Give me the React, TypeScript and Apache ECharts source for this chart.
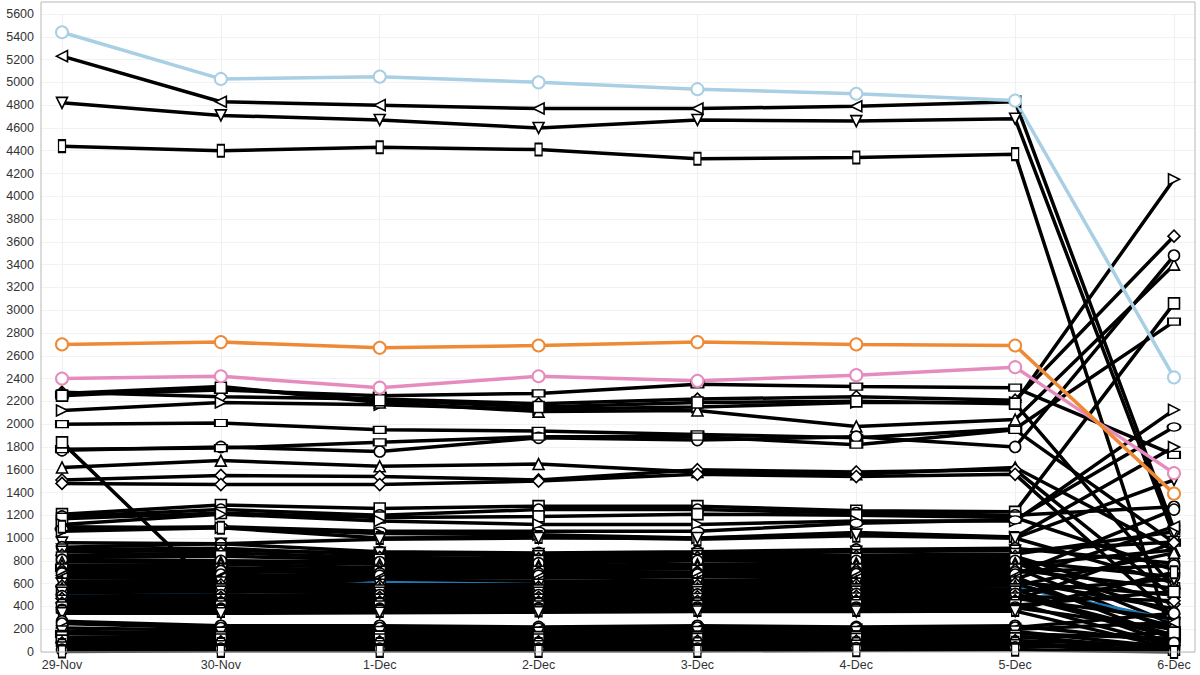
import React, { useEffect, useRef } from "react";
import * as echarts from "echarts";

const categories = ["29-Nov", "30-Nov", "1-Dec", "2-Dec", "3-Dec", "4-Dec", "5-Dec", "6-Dec"];
const yMin = 0;
const yMax = 5600;
const yInterval = 200;

const lightBlue = [5440, 5030, 5050, 5000, 4940, 4900, 4840, 2410];
const orange = [2700, 2720, 2670, 2690, 2720, 2700, 2690, 1390];
const pink = [2400, 2420, 2320, 2420, 2380, 2430, 2500, 1570];
const blue = [500, 520, 610, 590, 570, 580, 570, 280];

const blackValues: number[][] = [
  [5230, 4830, 4800, 4770, 4770, 4790, 4830, 1080],
  [4820, 4710, 4670, 4600, 4670, 4660, 4680, 1020],
  [4440, 4400, 4430, 4410, 4330, 4340, 4370, 70],
  [2260, 2300, 2250, 2270, 2350, 2330, 2320, 1730],
  [2280, 2240, 2220, 2180, 2220, 2240, 2210, 3650],
  [2120, 2190, 2170, 2130, 2150, 2190, 2190, 4150],
  [2270, 2330, 2190, 2110, 2120, 1980, 2040, 3400],
  [2250, 2320, 2210, 2150, 2190, 2200, 2180, 560],
  [2000, 2010, 1950, 1940, 1910, 1880, 1960, 2900],
  [1770, 1800, 1760, 1880, 1860, 1890, 1800, 3480],
  [1780, 1790, 1840, 1890, 1890, 1820, 1950, 960],
  [1840, 500, 470, 460, 470, 480, 490, 130],
  [1620, 1680, 1630, 1650, 1580, 1560, 1620, 890],
  [1510, 1550, 1540, 1510, 1600, 1580, 1600, 480],
  [1480, 1470, 1470, 1500, 1560, 1540, 1560, 300],
  [1210, 1290, 1260, 1280, 1280, 1240, 1230, 3060],
  [1190, 1250, 1200, 1250, 1250, 1220, 1200, 1275],
  [1170, 1220, 1180, 1190, 1210, 1200, 1180, 720],
  [1120, 1210, 1150, 1120, 1120, 1150, 1150, 2125],
  [1080, 1100, 1060, 1060, 1060, 1130, 1160, 1975],
  [1060, 1090, 1040, 1030, 1000, 1050, 1010, 1800],
  [1100, 1090, 1000, 1010, 990, 1020, 1000, 605],
  [960, 950, 990, 1000, 1000, 1030, 1000, 1510],
  [920, 950, 880, 870, 880, 900, 910, 780],
  [900, 910, 850, 860, 860, 880, 890, 965],
  [880, 890, 870, 840, 840, 850, 860, 1055],
  [850, 870, 830, 820, 830, 840, 840, 420],
  [830, 840, 810, 800, 810, 820, 820, 240],
  [810, 800, 790, 780, 800, 800, 800, 660],
  [790, 790, 770, 760, 770, 780, 780, 340],
  [760, 770, 740, 740, 750, 760, 760, 895],
  [740, 740, 720, 720, 730, 740, 740, 180],
  [720, 730, 700, 700, 705, 720, 720, 560],
  [700, 710, 690, 690, 690, 700, 700, 760],
  [690, 680, 670, 670, 680, 685, 680, 1250],
  [670, 660, 650, 650, 660, 665, 660, 110],
  [650, 650, 630, 620, 630, 640, 640, 1100],
  [620, 630, 610, 600, 615, 620, 625, 380],
  [600, 610, 590, 590, 600, 600, 610, 500],
  [580, 590, 580, 570, 585, 590, 600, 220],
  [560, 570, 560, 555, 560, 570, 580, 870],
  [540, 550, 540, 540, 545, 550, 550, 70],
  [520, 530, 520, 520, 525, 530, 530, 640],
  [490, 500, 500, 500, 505, 510, 510, 150],
  [470, 480, 480, 480, 485, 490, 490, 450],
  [450, 460, 460, 460, 465, 470, 470, 290],
  [430, 440, 440, 440, 445, 450, 450, 960],
  [410, 420, 420, 420, 425, 430, 430, 50],
  [390, 400, 400, 400, 405, 410, 410, 530],
  [370, 380, 380, 385, 390, 390, 390, 200],
  [355, 360, 360, 365, 370, 370, 370, 700],
  [340, 340, 345, 350, 355, 355, 360, 30],
  [270, 230, 230, 220, 230, 220, 230, 90],
  [250, 210, 210, 205, 215, 210, 215, 340],
  [210, 190, 195, 190, 195, 195, 200, 260],
  [180, 170, 175, 170, 175, 175, 180, 40],
  [160, 150, 155, 150, 155, 155, 160, 120],
  [130, 130, 135, 130, 130, 135, 140, 20],
  [100, 110, 110, 110, 115, 115, 120, 170],
  [80, 90, 90, 90, 95, 95, 100, 60],
  [60, 70, 70, 70, 75, 75, 80, 10],
  [40, 50, 50, 50, 50, 55, 60, 5],
  [20, 30, 30, 30, 30, 35, 40, 80],
  [5, 10, 10, 10, 10, 15, 20, 0],
];

const blackMarkers: string[] = [
  "l", "v", "rt", "rw", "d", "R", "t", "s", "rw", "c", "rw", "s", "t", "d", "d",
  "s", "c", "s", "R", "e", "R", "rt",
  "v", "c", "v", "v", "d", "s", "c", "t", "t", "rw", "d", "c", "c", "l", "l", "t",
  "v", "d", "t", "s", "v", "c", "d", "v", "d", "rt", "s", "c", "rt", "v",
  "c", "c", "l", "v", "rw", "s", "s", "d", "rt", "v", "c", "rt",
];

// index in blackValues after which the blue series is drawn
const blueDrawAfter = 37;

function markerStyle(m: string): any {
  switch (m) {
    case "c": return { symbol: "circle", symbolSize: 11, symbolRotate: 0 };
    case "s": return { symbol: "rect", symbolSize: 11, symbolRotate: 0 };
    case "rw": return { symbol: "rect", symbolSize: [12, 7], symbolRotate: 0 };
    case "rt": return { symbol: "rect", symbolSize: [7, 12], symbolRotate: 0 };
    case "t": return { symbol: "triangle", symbolSize: 11, symbolRotate: 0 };
    case "v": return { symbol: "triangle", symbolSize: 11, symbolRotate: 180 };
    case "l": return { symbol: "triangle", symbolSize: 11, symbolRotate: 90 };
    case "R": return { symbol: "triangle", symbolSize: 11, symbolRotate: -90 };
    case "d": return { symbol: "diamond", symbolSize: 12, symbolRotate: 0 };
    case "e": return { symbol: "circle", symbolSize: [13, 8], symbolRotate: 0 };
    default: return { symbol: "circle", symbolSize: 11, symbolRotate: 0 };
  }
}

function coloredSeries(name: string, data: number[], color: string): any {
  return {
    name,
    type: "line",
    xAxisIndex: 1,
    yAxisIndex: 1,
    data,
    symbol: "circle",
    symbolSize: 12,
    lineStyle: { color, width: 3.5 },
    itemStyle: { color: "#fff", borderColor: color, borderWidth: 2 },
  };
}

export default function App() {
  const ref = useRef<HTMLDivElement>(null);
  useEffect(() => {
    if (!ref.current) return;
    const chart = echarts.init(ref.current, undefined, { renderer: "svg" });
    const series: any[] = [];
    blackValues.forEach((vals, i) => {
      series.push({
        name: "s" + i,
        type: "line",
        xAxisIndex: 1,
        yAxisIndex: 1,
        data: vals,
        ...markerStyle(blackMarkers[i]),
        lineStyle: { color: "#000", width: 3.5 },
        itemStyle: { color: "#fff", borderColor: "#000", borderWidth: 1.6 },
      });
      if (i === blueDrawAfter) {
        const b = coloredSeries("blue", blue, "#1f78b4");
        b.symbol = "none";
        series.push(b);
      }
    });
    series.push(coloredSeries("pink", pink, "#e68bbe"));
    series.push(coloredSeries("orange", orange, "#ee8a35"));
    series.push(coloredSeries("lightBlue", lightBlue, "#a8cfe4"));

    const font = "'Liberation Sans', Arial, sans-serif";
    chart.setOption({
      animation: false,
      backgroundColor: "#fff",
      grid: [
        { left: 41, right: 5, top: 14, bottom: 23 },
        { left: 62, right: 26, top: 14, bottom: 23 },
      ],
      xAxis: [
        { type: "category", gridIndex: 0, show: false, data: categories },
        {
          type: "category",
          gridIndex: 1,
          data: categories,
          boundaryGap: false,
          axisLine: { show: false },
          axisTick: { show: false },
          axisLabel: { color: "#333", fontSize: 12.5, fontFamily: font, margin: 6 },
          splitLine: { show: true, lineStyle: { color: "#eef0f3", width: 1 } },
        },
      ],
      yAxis: [
        {
          type: "value",
          gridIndex: 0,
          min: yMin,
          max: yMax,
          interval: yInterval,
          axisLine: { show: false },
          axisTick: { show: false },
          axisLabel: {
            color: "#333",
            fontSize: 12.5,
            fontFamily: font,
            margin: 7,
            formatter: (v: number) => String(v),
          },
          splitLine: { show: true, lineStyle: { color: "#f1f2f4", width: 1 } },
        },
        {
          type: "value",
          gridIndex: 1,
          min: yMin,
          max: yMax,
          interval: yInterval,
          show: false,
          splitLine: { show: false },
        },
      ],
      graphic: [
        {
          type: "rect",
          shape: { x: 41, y: 2, width: 1154, height: 650 },
          style: { fill: "none", stroke: "#b8b8b8", lineWidth: 1 },
          silent: true,
          z: 100,
        },
      ],
      series,
    });
    return () => chart.dispose();
  }, []);
  return (
    <div
      ref={ref}
      style={{ position: "fixed", left: 0, top: 0, width: 1200, height: 675 }}
    />
  );
}
